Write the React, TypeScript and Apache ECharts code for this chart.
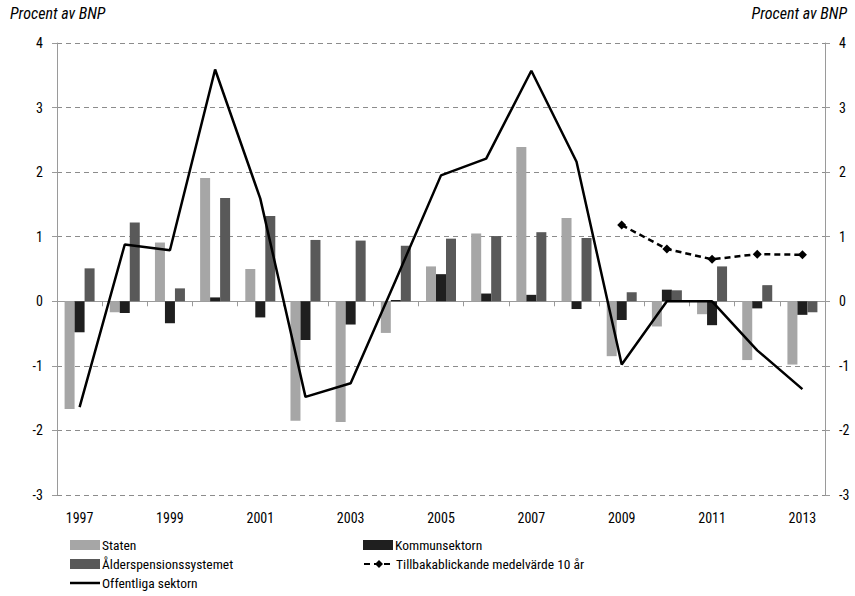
import React, { useEffect, useRef } from "react";
import * as echarts from "echarts";

const years = ["1997","1998","1999","2000","2001","2002","2003","2004","2005","2006","2007","2008","2009","2010","2011","2012","2013"];
const staten = [-1.67, -0.17, 0.91, 1.91, 0.50, -1.85, -1.87, -0.49, 0.54, 1.05, 2.39, 1.29, -0.85, -0.39, -0.20, -0.91, -0.98];
const kommun = [-0.48, -0.18, -0.34, 0.06, -0.25, -0.60, -0.36, 0.02, 0.42, 0.12, 0.10, -0.12, -0.29, 0.18, -0.37, -0.11, -0.21];
const alder = [0.51, 1.22, 0.20, 1.60, 1.32, 0.95, 0.94, 0.86, 0.97, 1.01, 1.07, 0.98, 0.14, 0.17, 0.54, 0.25, -0.17];
const offentliga = [-1.64, 0.88, 0.79, 3.59, 1.59, -1.48, -1.27, 0.33, 1.95, 2.21, 3.57, 2.16, -0.98, 0.0, 0.0, -0.76, -1.36];
const medel = [null, null, null, null, null, null, null, null, null, null, null, null, 1.18, 0.81, 0.65, 0.73, 0.72];

const FONT = "'Roboto Condensed', Roboto, sans-serif";
const AXIS_GRAY = "#9a9a9a";

export default function App() {
  const ref = useRef<HTMLDivElement>(null);
  useEffect(() => {
    if (!ref.current) return;
    const chart = echarts.init(ref.current, undefined, { renderer: "svg" });
    const yAxisBase = {
      type: "value",
      min: -3,
      max: 4,
      interval: 1,
      axisLine: { show: true, lineStyle: { color: AXIS_GRAY, width: 1 } },
      axisTick: { show: true, length: 5, lineStyle: { color: AXIS_GRAY } },
      axisLabel: { color: "#000", fontSize: 14, fontFamily: FONT, margin: 14 },
    };
    const legendItem = (name: string, left: number, top: number, icon?: string) => ({
      orient: "horizontal",
      left,
      top,
      padding: 0,
      itemGap: 0,
      itemWidth: 30,
      itemHeight: 10,
      textStyle: { fontSize: 13.5, color: "#000", fontFamily: FONT, padding: [0, 0, 0, -3] },
      data: [icon ? { name, icon } : { name }],
    });
    chart.setOption({
      animation: false,
      textStyle: { fontFamily: FONT },
      grid: { left: 57, right: 30, top: 43, height: 452, containLabel: false },
      xAxis: [
        {
          type: "category",
          data: years,
          position: "bottom",
          axisLine: { show: true, onZero: true, lineStyle: { color: AXIS_GRAY, width: 1 } },
          axisTick: { show: true, length: 5, alignWithLabel: false, interval: 0, lineStyle: { color: AXIS_GRAY } },
          axisLabel: { show: false },
          splitLine: { show: false },
        },
        {
          type: "category",
          data: years,
          position: "bottom",
          axisLine: { show: false, onZero: false },
          axisTick: { show: false },
          axisLabel: { show: true, interval: 1, color: "#000", fontSize: 14, fontFamily: FONT, margin: 16 },
          splitLine: { show: false },
        },
      ],
      yAxis: [
        {
          ...yAxisBase,
          position: "left",
          splitLine: { show: true, lineStyle: { color: "#8c8c8c", type: [5, 4], width: 1 } },
        },
        {
          ...yAxisBase,
          position: "right",
          splitLine: { show: false },
        },
      ],
      legend: [
        legendItem("Staten", 70, 538, "rect"),
        legendItem("Ålderspensionssystemet", 70, 557, "rect"),
        legendItem("Offentliga sektorn", 70, 576, "path://M0,0 L30,0 L30,2.5 L0,2.5 Z"),
        legendItem("Kommunsektorn", 363, 538, "rect"),
        legendItem("Tillbakablickande medelvärde 10 år", 363, 557),
      ],
      graphic: [
        {
          type: "text",
          left: 10,
          top: 5,
          style: { text: "Procent av BNP", fontSize: 16, fontStyle: "italic", fontFamily: FONT, fill: "#000" },
        },
        {
          type: "text",
          right: 8,
          top: 5,
          style: { text: "Procent av BNP", fontSize: 16, fontStyle: "italic", fontFamily: FONT, fill: "#000" },
        },
      ],
      series: [
        {
          name: "Staten",
          type: "bar",
          data: staten,
          barWidth: 10,
          barGap: "0%",
          itemStyle: { color: "#a6a6a6" },
        },
        {
          name: "Kommunsektorn",
          type: "bar",
          data: kommun,
          barWidth: 10,
          barGap: "0%",
          itemStyle: { color: "#1f1f1f" },
        },
        {
          name: "Ålderspensionssystemet",
          type: "bar",
          data: alder,
          barWidth: 10,
          barGap: "0%",
          itemStyle: { color: "#595959" },
        },
        {
          name: "Offentliga sektorn",
          type: "line",
          data: offentliga,
          symbol: "none",
          lineStyle: { color: "#000", width: 2.5 },
          itemStyle: { color: "#000" },
          z: 5,
        },
        {
          name: "Tillbakablickande medelvärde 10 år",
          type: "line",
          data: medel,
          symbol: "diamond",
          symbolSize: 9,
          lineStyle: { color: "#000", width: 2.5, type: [6, 4] },
          itemStyle: { color: "#000" },
          z: 5,
        },
      ],
    });
    return () => chart.dispose();
  }, []);
  return <div ref={ref} style={{ width: 855, height: 596, position: "absolute", left: 0, top: 0 }} />;
}
